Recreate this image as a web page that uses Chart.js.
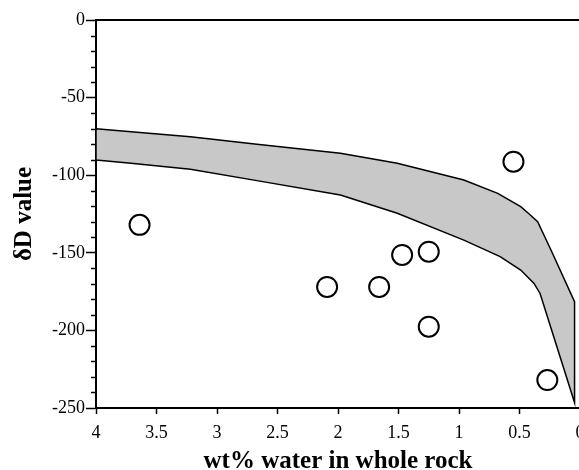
<!DOCTYPE html>
<html>
<head>
<meta charset="utf-8">
<script src="https://cdn.jsdelivr.net/npm/chart.js@4.4.1/dist/chart.umd.min.js"></script>
<style>
  html, body { margin: 0; padding: 0; background: #fff; overflow: hidden; }
  #wrap { position: relative; width: 600px; height: 470px; }
</style>
</head>
<body>
<div id="wrap"><canvas id="c"></canvas></div>
<script>
// ---- data ----
const sampleWater = [3.64, 2.09, 1.66, 1.47, 1.25, 1.25, 0.55, 0.27];      // wt% water
const sampleDD    = [-132, -172, -172, -151.4, -149.3, -197.6, -91.3, -232]; // δD value

const bandUpperX = [4, 3.71, 3.22, 2.67, 1.98, 1.51, 0.96, 0.68, 0.49, 0.42, 0.35, 0.24, 0.045, 0.045];
const bandUpperY = [-70, -72, -75.2, -80.1, -85.9, -92.3, -103.1, -111.7, -120.3, -125, -130, -148.2, -181.5, -246.5];
const bandLowerX = [4, 3.71, 3.22, 2.67, 1.98, 1.51, 0.96, 0.66, 0.49, 0.38, 0.33];
const bandLowerY = [-90.2, -92.3, -96.2, -103.5, -112.8, -124.5, -141.8, -152.5, -161.1, -169.7, -176.2];

const xTickLabels = {4: '4', 3.5: '3.5', 3: '3', 2.5: '2.5', 2: '2', 1.5: '1.5', 1: '1', 0.5: '0.5', 0: '0'};
const yTickLabels = {0: '0', '-50': '-50', '-100': '-100', '-150': '-150', '-200': '-200', '-250': '-250'};
const yMinorStep = 10;

// ---- build datasets ----
const points = sampleWater.map((x, i) => ({x: x, y: sampleDD[i]}));
const band = [];
bandUpperX.forEach((x, i) => band.push({x: x, y: bandUpperY[i]}));
for (let i = bandLowerX.length - 1; i >= 0; i--) band.push({x: bandLowerX[i], y: bandLowerY[i]});
band.push({x: bandUpperX[0], y: bandUpperY[0]});

const SERIF = '"Liberation Serif", "Times New Roman", serif';

const extrasPlugin = {
  id: 'extras',
  afterDraw(chart) {
    const {ctx, chartArea} = chart;
    const ys = chart.scales.y;
    ctx.save();
    ctx.strokeStyle = '#000';
    // top frame line
    ctx.lineWidth = 2;
    ctx.beginPath();
    ctx.moveTo(chartArea.left - 1, chartArea.top);
    ctx.lineTo(chart.width, chartArea.top);
    ctx.stroke();
    // minor y ticks
    ctx.lineWidth = 1.5;
    for (let v = ys.min; v <= ys.max; v += yMinorStep) {
      if (v % 50 === 0) continue;
      const py = Math.round(ys.getPixelForValue(v)) + 0.5;
      ctx.beginPath();
      ctx.moveTo(chartArea.left - 5, py);
      ctx.lineTo(chartArea.left, py);
      ctx.stroke();
    }
    ctx.restore();
  }
};

new Chart(document.getElementById('c'), {
  type: 'scatter',
  data: {
    datasets: [
      {
        label: 'samples',
        data: points,
        pointRadius: 10,
        pointHoverRadius: 10,
        pointBorderWidth: 2,
        pointBorderColor: '#000',
        pointBackgroundColor: '#fff',
        showLine: false,
        order: 0
      },
      {
        label: 'band',
        data: band,
        showLine: true,
        fill: 'shape',
        backgroundColor: '#c8c8c8',
        borderColor: '#000',
        borderWidth: 1.5,
        pointRadius: 0,
        pointHoverRadius: 0,
        tension: 0,
        order: 1
      }
    ]
  },
  options: {
    responsive: true,
    maintainAspectRatio: false,
    animation: false,
    events: [],
    layout: { padding: { left: 0, right: 20, top: 20, bottom: 0 } },
    plugins: { legend: { display: false }, tooltip: { enabled: false } },
    scales: {
      x: {
        type: 'linear',
        min: 0, max: 4,
        reverse: true,
        afterFit(scale) { scale.height = 62; },
        ticks: {
          stepSize: 0.5,
          color: '#000',
          padding: 8,
          maxRotation: 0,
          font: { family: SERIF, size: 18 },
          callback: (v) => xTickLabels[v] !== undefined ? xTickLabels[v] : ''
        },
        grid: { drawOnChartArea: false, drawTicks: true, tickLength: 6, tickColor: '#000', tickWidth: 1.5 },
        border: { display: true, color: '#000', width: 2 },
        title: {
          display: true,
          text: 'wt% water in whole rock',
          color: '#000',
          font: { family: SERIF, size: 25, weight: 'bold', lineHeight: 1 },
          padding: { top: 0, bottom: -4 }
        }
      },
      y: {
        type: 'linear',
        min: -250, max: 0,
        afterFit(scale) { scale.width = 96; },
        ticks: {
          stepSize: 50,
          color: '#000',
          padding: 1,
          font: { family: SERIF, size: 18 },
          callback: (v) => yTickLabels[v] !== undefined ? yTickLabels[v] : ''
        },
        grid: { drawOnChartArea: false, drawTicks: true, tickLength: 10, tickColor: '#000', tickWidth: 1.5 },
        border: { display: true, color: '#000', width: 2 },
        title: {
          display: true,
          text: 'δD value',
          color: '#000',
          font: { family: SERIF, size: 25, weight: 'bold', lineHeight: 1 },
          padding: { top: 12, bottom: 0 }
        }
      }
    }
  },
  plugins: [extrasPlugin]
});
</script>
</body>
</html>
